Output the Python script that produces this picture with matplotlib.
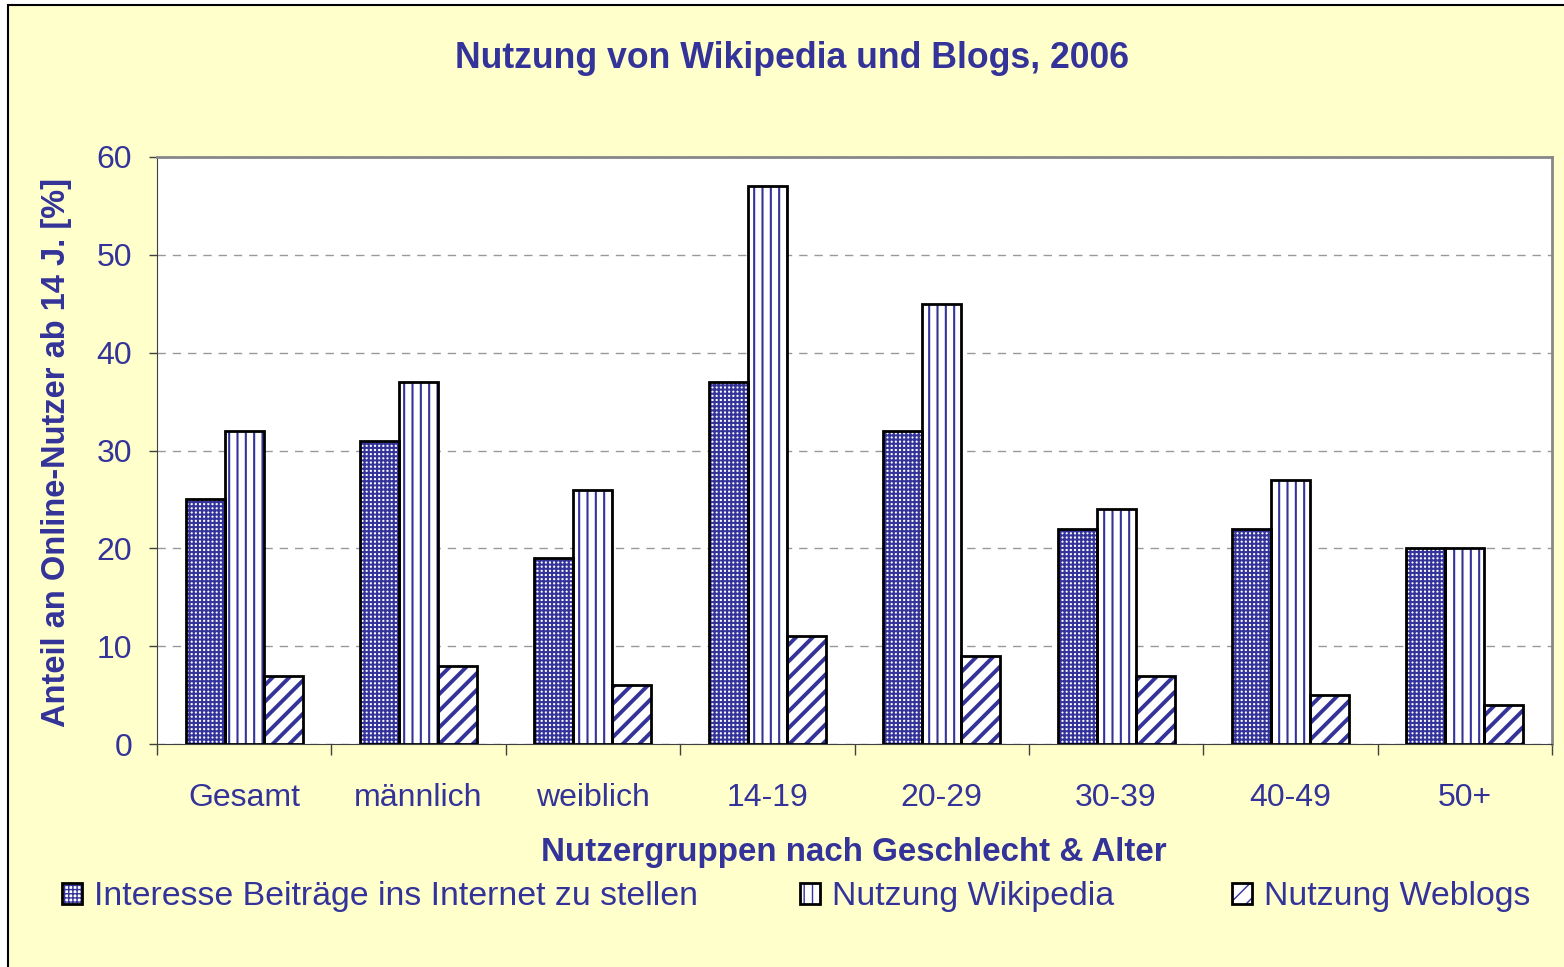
import matplotlib.pyplot as plt
import matplotlib as mpl
from matplotlib.patches import Patch, Rectangle
import numpy as np

# data
gruppen = ['Gesamt', 'männlich', 'weiblich', '14-19', '20-29', '30-39', '40-49', '50+']
interesse = [25, 31, 19, 37, 32, 22, 22, 20]
wikipedia = [32, 37, 26, 57, 45, 24, 27, 20]
weblogs = [7, 8, 6, 11, 9, 7, 5, 4]
reihen = ['Interesse Beiträge ins Internet zu stellen', 'Nutzung Wikipedia', 'Nutzung Weblogs']

blau = '#333399'
gelb = '#FFFFCC'
plt.rcParams['font.family'] = ['Liberation Sans', 'DejaVu Sans']

fig = plt.figure(figsize=(15.64, 9.67), dpi=100, facecolor='white')
fig.patches.append(Rectangle((8 / 1564, -0.01), 1.02, 1 - 5 / 967 + 0.01, transform=fig.transFigure,
                             facecolor=gelb, edgecolor='black', linewidth=1.5, zorder=-10))

ax = fig.add_axes([157 / 1564, 1 - 744 / 967, 1395 / 1564, 587 / 967])
ax.set_facecolor('white')

x = np.arange(len(gruppen))
w = 0.2236
muster = [('++++', 1.5), ('||', 1.5), ('//', 2.8)]

def hatch_bars(pos, werte, hatch, hlw):
    bars = ax.bar(pos, werte, w, color='white', edgecolor=blau, linewidth=0, hatch=hatch, zorder=2)
    for b in bars:
        if hasattr(b, 'set_hatch_linewidth'):
            b.set_hatch_linewidth(hlw)
    ax.bar(pos, werte, w, fill=False, edgecolor='black', linewidth=2, zorder=3)

for off, werte, (h, hlw) in zip([-w, 0, w], [interesse, wikipedia, weblogs], muster):
    hatch_bars(x + off, werte, h, hlw)

ax.set_xlim(-0.5, 7.5)
ax.set_ylim(0, 60)
ax.set_yticks(range(0, 61, 10))
ax.tick_params(axis='y', labelsize=23, labelcolor=blau, length=6, width=1, pad=12, color='#404040')
ax.set_xticks(x)
ax.set_xticklabels(gruppen)
ax.tick_params(axis='x', which='major', length=0, labelsize=23, labelcolor=blau, pad=28)
ax.set_xticks(np.arange(-0.5, 8, 1), minor=True)
ax.tick_params(axis='x', which='minor', length=8, width=1, color='#404040')

ax.yaxis.grid(True, linestyle=(0, (6, 5)), color='#999999', linewidth=1)
ax.set_axisbelow(True)
for s in ['top', 'right']:
    ax.spines[s].set_color('#888888')
    ax.spines[s].set_linewidth(2)
ax.spines['left'].set_color('#404040')
ax.spines['bottom'].set_color('#404040')

fig.text(792 / 1564, 1 - 58 / 967, 'Nutzung von Wikipedia und Blogs, 2006', ha='center', va='center',
         fontsize=25.7, fontweight='bold', color=blau)
fig.text(854 / 1564, 1 - 853 / 967, 'Nutzergruppen nach Geschlecht & Alter', ha='center', va='center',
         fontsize=23.9, fontweight='bold', color=blau)
fig.text(57 / 1564, 1 - 452 / 967, 'Anteil an Online-Nutzer ab 14 J. [%]', ha='center', va='center',
         rotation=90, fontsize=23.5, fontweight='bold', color=blau)

# one legend per entry, placed at the marker positions of the original
leg_x = [62, 800, 1232]
for (h, hlw), name, lx in zip(muster, reihen, leg_x):
    p1 = Patch(facecolor='white', edgecolor=blau, linewidth=0, hatch=h)
    if hasattr(p1, 'set_hatch_linewidth'):
        p1.set_hatch_linewidth(hlw)
    p2 = Patch(fill=False, edgecolor='black', linewidth=2)
    leg = fig.legend([(p1, p2)], [name], loc='center left', bbox_to_anchor=(lx / 1564, 1 - 897 / 967),
                     frameon=False, fontsize=24.4, handlelength=0.6, handleheight=0.6, handletextpad=0.35,
                     borderpad=0, borderaxespad=0, labelcolor=blau)

fig.savefig('out.png', dpi=100, facecolor=fig.get_facecolor())
